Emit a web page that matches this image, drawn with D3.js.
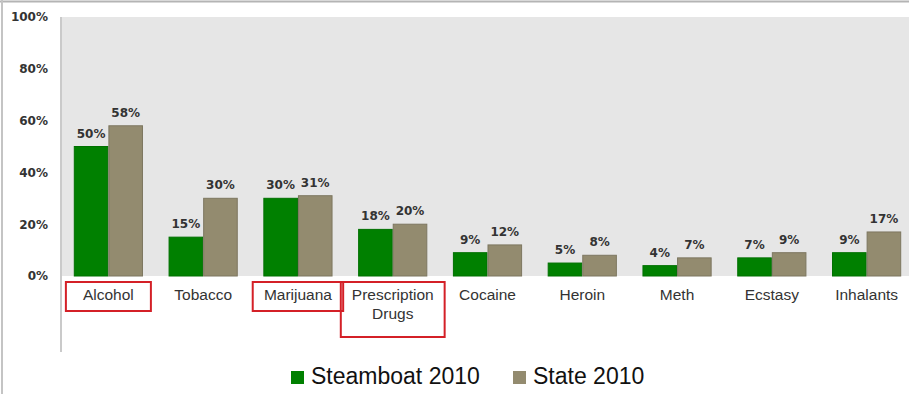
<!DOCTYPE html>
<html>
<head>
<meta charset="utf-8">
<script src="https://cdn.jsdelivr.net/npm/d3@7"></script>
<style>
  html, body { margin: 0; padding: 0; background: #fff; }
  svg { display: block; }
</style>
</head>
<body>
<svg id="chart" width="909" height="394"></svg>
<script>
// Substance use, Steamboat vs. State, 2010
const categories = ["Alcohol", "Tobacco", "Marijuana", "Prescription Drugs", "Cocaine", "Heroin", "Meth", "Ecstasy", "Inhalants"];
const steamboat2010 = [50, 15, 30, 18, 9, 5, 4, 7, 9];
const state2010 = [58, 30, 31, 20, 12, 8, 7, 9, 17];
const seriesNames = ["Steamboat 2010", "State 2010"];
const yTicks = [0, 20, 40, 60, 80, 100];
const highlighted = ["Alcohol", "Marijuana", "Prescription Drugs"];

const colors = ["#008000", "#938b6f"];
const strokes = ["#007000", "#7d7760"];

const W = 909, H = 394;
const plot = { left: 61, right: 914, top: 17, bottom: 276 };

const svg = d3.select("#chart");

// outer frame
svg.append("line").attr("x1", 0).attr("x2", W).attr("y1", 1.5).attr("y2", 1.5)
  .attr("stroke", "#b4b4b4").attr("stroke-width", 2);
svg.append("line").attr("x1", 2).attr("x2", 2).attr("y1", 0).attr("y2", H)
  .attr("stroke", "#c4c4c4").attr("stroke-width", 2);

const x0 = d3.scaleBand().domain(categories).range([plot.left, plot.right])
  .paddingInner(0.27).paddingOuter(0.135);
const x1 = d3.scaleBand().domain([0, 1]).range([0, x0.bandwidth()]);
const y = d3.scaleLinear().domain([0, 100]).range([plot.bottom, plot.top]);

// plot background
svg.append("rect")
  .attr("x", plot.left).attr("y", y(100))
  .attr("width", W - plot.left).attr("height", y(0) - y(100))
  .attr("fill", "#e6e6e6");

// vertical axis line
svg.append("line")
  .attr("x1", plot.left).attr("x2", plot.left)
  .attr("y1", y(100)).attr("y2", 352)
  .attr("stroke", "#cacaca").attr("stroke-width", 2);

// y axis tick labels
const yAxis = d3.axisLeft(y).tickValues(yTicks).tickFormat(d => d + "%").tickSize(0).tickPadding(13);
const yg = svg.append("g").attr("transform", `translate(${plot.left},0)`).call(yAxis);
yg.select(".domain").remove();
yg.selectAll("text")
  .attr("font-family", "DejaVu Sans, Verdana, sans-serif")
  .attr("font-weight", "bold")
  .attr("font-size", 12)
  .attr("fill", "#333")
  .attr("dy", "0.32em");

// bars
const rows = categories.map((c, i) => ({ cat: c, vals: [steamboat2010[i], state2010[i]] }));
const groups = svg.append("g").selectAll("g").data(rows).join("g")
  .attr("transform", d => `translate(${x0(d.cat)},0)`);

groups.selectAll("rect").data(d => d.vals.map((v, s) => ({ v, s }))).join("rect")
  .attr("x", d => x1(d.s) + 0.5)
  .attr("y", d => y(d.v))
  .attr("width", x1.bandwidth() - 1)
  .attr("height", d => y(0) - y(d.v))
  .attr("fill", d => colors[d.s])
  .attr("stroke", d => strokes[d.s])
  .attr("stroke-width", 1);

// value labels
groups.selectAll("text.val").data(d => d.vals.map((v, s) => ({ v, s }))).join("text")
  .attr("class", "val")
  .attr("x", d => x1(d.s) + x1.bandwidth() / 2)
  .attr("y", d => y(d.v) - 9)
  .attr("text-anchor", "middle")
  .attr("font-family", "DejaVu Sans, Verdana, sans-serif")
  .attr("font-weight", "bold")
  .attr("font-size", 12)
  .attr("fill", "#333")
  .text(d => d.v + "%");

// category labels (wrapped to two lines where needed)
const catLabels = svg.append("g").selectAll("g").data(categories).join("g")
  .attr("transform", d => `translate(${x0(d) + x0.bandwidth() / 2},0)`);

const catText = catLabels.append("text")
  .attr("text-anchor", "middle")
  .attr("font-family", "Liberation Sans, Arial, sans-serif")
  .attr("font-size", 15.5)
  .attr("fill", "#333");

catText.each(function (d) {
  const words = d === "Prescription Drugs" ? ["Prescription", "Drugs"] : [d];
  d3.select(this).selectAll("tspan").data(words).join("tspan")
    .attr("x", 0)
    .attr("y", (w, i) => 300 + i * 19)
    .text(w => w);
});

// red highlight boxes around selected categories
catLabels.filter(d => highlighted.includes(d)).each(function (d) {
  const g = d3.select(this);
  const bb = g.select("text").node().getBBox();
  const w = Math.max(bb.width + 22, 85);
  const h = bb.height > 30 ? 55 : 29;
  g.append("rect")
    .attr("x", -w / 2).attr("y", 282)
    .attr("width", w).attr("height", h)
    .attr("fill", "none")
    .attr("stroke", "#d42027")
    .attr("stroke-width", 2);
});

// legend
const legend = svg.append("g").attr("transform", "translate(291,371)");
const legendX = [0, 222];
seriesNames.forEach((name, i) => {
  const g = legend.append("g").attr("transform", `translate(${legendX[i]},0)`);
  g.append("rect").attr("width", 13).attr("height", 13).attr("fill", colors[i]);
  g.append("text")
    .attr("x", 20).attr("y", 12.5)
    .attr("font-family", "Liberation Sans, Arial, sans-serif")
    .attr("font-size", 23)
    .attr("fill", "#111")
    .text(name);
});
</script>
</body>
</html>
